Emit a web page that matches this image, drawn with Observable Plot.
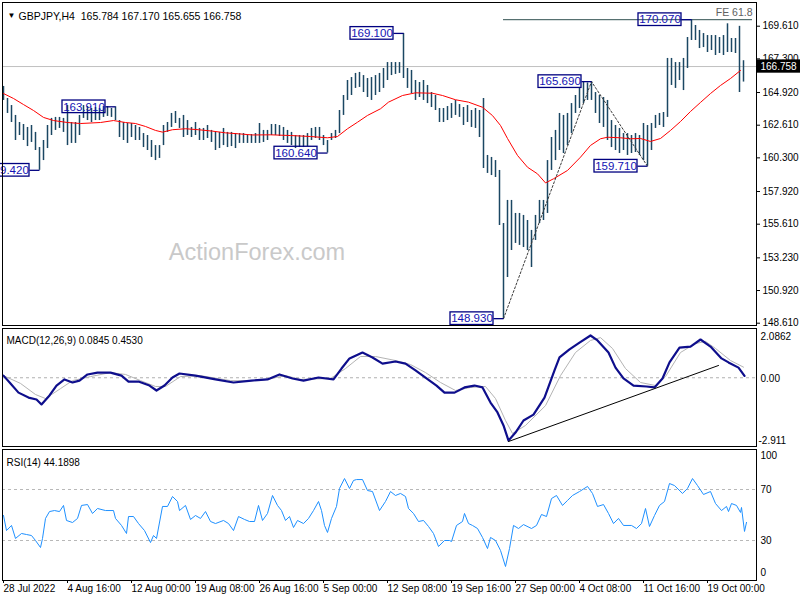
<!DOCTYPE html>
<html><head><meta charset="utf-8">
<script src="https://cdn.jsdelivr.net/npm/d3@7"></script>
<script src="https://cdn.jsdelivr.net/npm/@observablehq/plot@0.6"></script>
<style>
body{margin:0;background:#fff;}
#chart{position:relative;width:800px;height:600px;overflow:hidden;background:#fff;}
#chart svg{position:absolute;left:0;}
</style></head><body><div id="chart"></div>
<script>
// ---------- data ----------
const titleText = "GBPJPY,H4  165.784 167.170 165.655 166.758";
const priceTicks = [169.61,167.30,164.92,162.61,160.30,157.92,155.61,153.23,150.92,148.61];
// one entry per two H4 bars (bar index = 2*i)
const barHigh = [
165.35,164.50,164.00,163.30,162.80,162.66,162.45,162.59,162.10,161.03,
161.53,162.59,163.09,163.16,163.16,163.09,164.00,162.80,162.80,163.30,
164.00,163.93,163.79,163.86,163.79,163.93,163.93,163.79,163.91,162.94,
162.80,162.73,162.73,162.59,162.45,162.02,161.88,161.53,161.17,161.17,
162.59,162.80,163.44,163.58,163.09,163.30,162.94,162.45,162.80,162.38,
162.38,162.59,162.24,162.10,162.10,162.38,162.10,162.10,162.02,162.02,
162.02,161.88,161.95,162.02,162.73,162.24,162.24,162.66,162.66,162.59,
162.45,162.24,162.10,161.88,161.88,161.88,162.02,162.38,162.45,162.45,
161.88,161.53,162.02,162.24,163.65,164.71,165.77,165.98,166.27,166.34,
166.12,165.91,165.98,166.12,166.27,166.62,167.04,167.04,167.04,167.04,
169.10,166.62,166.48,165.77,165.63,165.77,165.42,164.92,164.71,163.79,
163.79,163.93,164.14,164.36,164.07,163.86,164.00,163.65,163.79,163.65,
164.50,160.47,160.33,160.11,159.41,155.66,157.29,157.29,156.37,156.37,
156.23,155.87,155.17,156.23,157.29,157.29,160.11,161.74,162.24,163.44,
163.30,163.44,164.14,164.71,165.28,165.63,165.60,165.69,164.92,164.71,
164.57,164.36,162.94,162.59,162.38,162.02,162.02,161.88,162.02,161.88,
162.73,162.59,162.73,163.30,163.44,163.51,167.33,167.33,167.04,167.04,
167.33,168.81,170.07,169.66,169.31,169.09,168.95,168.95,168.95,168.81,
168.95,169.78,168.74,168.74,169.60,167.17];
const barLow = [
164.36,163.44,162.80,161.53,161.88,161.53,161.10,161.39,160.82,159.42,
160.11,160.96,161.88,162.24,162.38,162.10,161.17,161.32,161.32,161.88,
163.09,162.94,162.80,162.94,162.94,163.16,163.23,163.16,162.94,161.74,
161.53,161.32,161.74,161.53,161.53,161.03,160.82,160.33,160.11,160.26,
161.17,162.10,162.45,162.73,162.38,161.74,161.88,161.74,161.88,161.53,
161.53,161.67,161.39,160.82,160.96,161.17,161.03,161.10,160.96,161.32,
161.32,161.32,161.32,161.32,161.32,161.39,161.53,161.88,161.88,161.81,
161.53,161.32,161.17,160.96,161.03,161.03,161.10,161.53,161.67,161.53,
161.17,160.64,161.53,161.67,162.02,163.30,164.36,164.71,165.21,165.28,
164.92,164.57,164.36,164.71,164.92,165.21,165.77,166.12,166.20,166.27,
165.91,165.21,164.85,164.36,164.57,164.36,164.14,163.86,163.65,162.80,
162.80,162.94,163.09,163.30,163.16,162.59,162.80,162.45,162.38,161.74,
159.55,159.20,159.05,158.91,155.52,148.93,151.84,153.75,154.25,154.11,
153.96,153.75,152.55,154.46,155.66,155.87,156.37,159.41,160.11,160.82,
160.61,161.17,162.02,163.44,163.79,164.14,164.36,164.36,163.44,162.73,
162.45,161.53,161.03,160.82,160.61,160.82,160.47,160.61,160.68,160.47,
160.11,159.71,160.82,162.38,162.59,162.45,163.16,165.42,165.21,165.77,
165.06,166.62,168.60,168.60,168.03,168.10,167.75,167.89,167.54,167.68,
167.54,167.75,167.75,167.68,164.92,165.66];
const maBar = [0,5,10,15,20,25,32,38.5,48.5,55,61,66,71,76,79.5,84.5,91,97.5,104.5,111,117.5,124.5,133.5,143.5,153.5,162,167,172,177,182,188.5,192.5,199.5,206,214.5,219.5,226,232.5,239.5,244.5,248.5,252,257,262,267,271,275,282,288.5,293.5,298.5,302,308.5,313.5,318.5,323.5,328.5,333.5,338.5,343.5,348.5,353.5,358.5,363.5,368.5];
const maValue = [164.85,164.50,164.07,163.65,163.16,162.94,162.80,162.73,162.80,162.94,162.80,162.73,162.52,162.24,162.12,162.29,162.36,162.29,162.19,162.07,162.00,161.92,161.93,161.88,161.81,161.72,161.81,162.36,162.82,163.30,163.77,164.24,164.71,164.90,164.87,164.71,164.41,164.24,163.88,163.29,162.59,161.67,160.47,159.64,159.17,158.53,158.82,159.41,160.35,161.18,161.65,161.76,161.72,161.65,161.67,161.46,161.67,162.24,162.87,163.58,164.22,164.85,165.42,165.91,166.48];
const lastClose = 166.758;
const feLevel = 170.07;
const feText = "FE 61.8";
const swingText = ["159.420","163.910","160.640","169.100","148.930","165.690","159.710","170.070"];
const swingBar = [18,56,162,200,250,294,322,344];
const swingPrice = [159.42,163.91,160.64,169.10,148.93,165.69,159.71,170.07];
const zigzagBar = [250,294,322];
const zigzagPrice = [148.93,165.69,159.71];

const macdTitle = "MACD(12,26,9) 0.0845 0.4530";
const macdBar = [0,3.5,7.5,12.5,16.5,19,23,26.5,30.5,34.5,38,42,47,53.5,59,62.5,67.5,73,76.5,80.5,84.5,88,96,106,115,124,132,138,144.5,150,157.5,165,169,173,179.5,184.5,189.5,196,201,206,211.5,216.5,220.5,225.5,230.5,235.5,239.5,243.5,247,250,252.5,256,260,265,270.5,275.5,278,283,288,293.5,297,302.5,306,310,315,321.5,325.5,329.5,333,338,343.5,348.5,353.5,359,362.5,367.5,370.5];
const macdValue = [0.09,-0.24,-0.63,-0.84,-0.92,-1.13,-0.75,-0.33,-0.07,-0.20,-0.12,0.14,0.22,0.22,0.09,-0.16,-0.16,-0.33,-0.54,-0.33,0.01,0.18,0.09,-0.07,-0.20,-0.12,-0.07,0.14,-0.03,-0.12,0.01,-0.07,0.39,0.82,1.07,0.86,0.60,0.69,0.60,0.31,-0.03,-0.33,-0.63,-0.63,-0.41,-0.33,-0.41,-1.05,-1.47,-2.02,-2.66,-2.32,-1.81,-1.56,-0.84,0.31,0.86,1.20,1.49,1.79,1.58,1.07,0.43,-0.03,-0.33,-0.37,-0.41,-0.03,0.65,1.28,1.32,1.62,1.32,0.82,0.65,0.43,0.08];
const signalBar = [0,8.5,16,21,28.5,34.5,43.5,53.5,61,68.5,76,81,88.5,98.5,113.5,128.5,141,148.5,163.5,171,178.5,186,196,203.5,211,218.5,226,233.5,241,246,251,254.5,261,271,278.5,286,293.5,298.5,304.5,311,318.5,326,331,338.5,346,351,356,363.5,370];
const signalValue = [0.09,-0.24,-0.71,-0.88,-0.46,-0.12,0.05,0.22,0.14,-0.12,-0.37,-0.37,0.05,0.09,-0.12,-0.12,0.09,-0.07,-0.03,0.39,0.90,0.90,0.73,0.56,0.22,-0.20,-0.54,-0.41,-0.37,-0.88,-1.81,-2.36,-2.02,-1.18,0.09,1.07,1.58,1.70,1.24,0.39,-0.20,-0.33,0.05,1.07,1.45,1.54,1.24,0.73,0.45];
const trendBar = [252.5,357.5];
const trendValue = [-2.70,0.52];
const macdLabels = ["2.0862","0.00","-2.911"];
const macdLabelValue = [2.0862,0,-2.911];

const rsiTitle = "RSI(14) 44.1898";
const rsiBar = [0,1.5,4,6,9,11.5,14,16,18.5,19.5,21,23,25.5,28,30,31.5,34.5,37,39,42,44.5,47,51,55,56,59,61.5,62.5,65,67.5,70.5,73.5,75,76.5,79.5,82,84.5,87,88,91,93.5,96,98.5,101,103.5,106,110,112.5,115,117.5,120.5,123,125.5,127.5,129.5,132,134.5,137,139,141,143,145,147,150,152.5,155,157.5,159,160.5,162,164,166.5,168,170.5,173,175,176.5,179.5,182,184.5,188,191,193.5,196,198.5,201,202.5,205,207.5,210,212.5,215,217.5,220.5,223,224,226.5,229.5,230.5,232.5,234.5,237,239.5,242,243.5,246,248.5,251,253,255,257.5,260,264,266.5,269,271.5,274,276.5,279.5,282,284.5,288,292,294.5,297,300,302.5,305,307.5,310,314,316.5,319,321,323,325.5,328,330.5,333,335.5,339.5,342,344.5,347,350,353.5,356,359,361.5,362.5,364,366.5,368.5,369,370.5,371.5];
const rsiValue = [49.6,37.8,41.8,31.6,35.5,34.7,33.9,30.0,24.5,31.6,47.3,52.7,53.5,52.7,57.5,45.7,44.1,47.3,57.5,58.2,51.2,55.1,53.5,53.5,47.3,41.8,35.5,48.8,48.8,43.3,37.8,28.4,33.9,31.6,56.7,56.7,64.5,60.6,53.5,57.5,46.5,49.6,47.3,52.7,44.9,43.3,45.7,43.3,37.8,48.8,46.5,44.9,44.9,57.5,45.7,51.2,65.3,57.5,53.5,45.7,48.8,40.2,45.7,43.3,47.3,53.5,60.6,53.5,41.8,36.3,47.3,56.7,70.8,78.6,70.8,77.1,77.8,77.8,69.2,68.4,53.5,60.6,68.4,65.3,66.9,64.5,55.1,51.2,44.9,45.7,41.0,35.5,25.3,30.0,30.0,29.2,41.8,44.9,51.2,43.3,41.8,39.4,32.4,23.7,32.4,30.0,22.2,9.6,23.7,41.8,39.4,42.5,39.4,41.8,50.4,48.8,62.9,65.3,57.5,61.4,65.3,68.4,72.4,66.9,56.7,58.2,51.2,43.3,47.3,41.8,41.8,39.4,43.3,55.1,41.0,49.6,57.5,60.6,74.7,73.1,66.9,70.8,78.6,73.1,66.1,68.4,59.0,53.5,56.7,52.7,59.0,57.5,52.0,55.9,37.1,44.2];
const rsiLevels = [70,30];
const rsiLabels = ["100","70","30","0"];
const rsiLabelValue = [100,70,30,0];
const dateBars = [0,32,64,96,128,160,192,224,256,288,320,352];
const dateLabels = ["28 Jul 2022","4 Aug 16:00","12 Aug 00:00","19 Aug 08:00","26 Aug 16:00","5 Sep 00:00","12 Sep 08:00","19 Sep 16:00","27 Sep 00:00","4 Oct 08:00","11 Oct 16:00","19 Oct 00:00"];

// ---------- layout ----------
const FONT = "'Liberation Sans', Arial, sans-serif";
const W = 800, ML = 2, MR = 44;
const X = {domain:[0,376], range:[3,755], axis:null};
const pxPerBar = 752/376;
const pxPerPrice = 297/21;
const baseStyle = {background:"transparent", fontFamily:FONT, fontSize:"10px", color:"black"};
const root = document.getElementById("chart");

// ---------- price pane ----------
const bars = barHigh.map((h,i)=>({bar:2*i, high:h, low:barLow[i]}));
const ma = maBar.map((b,i)=>({bar:b, value:maValue[i]}));
const swings = swingText.map((t,i)=>({text:t, bar:swingBar[i], price:swingPrice[i]}));
const zig = zigzagBar.map((b,i)=>({bar:b, price:zigzagPrice[i]}));
const boxL = 53/pxPerBar, boxR = 10/pxPerBar, boxH = 6.3/pxPerPrice;
const rightEdge = 376, labelX = 377;

const p1 = Plot.plot({
  width:W, height:327, marginLeft:ML, marginRight:MR, marginTop:2, marginBottom:2,
  x:X, y:{domain:[148.61,169.61], range:[322.7,25.7], axis:null},
  style:baseStyle,
  marks:[
    Plot.text(["ActionForex.com"], {x:126.75, y:153.6, fontSize:23.5, fill:"#c9c9c9"}),
    Plot.ruleY([lastClose], {stroke:"#c0c0c0"}),
    Plot.ruleY([feLevel], {x1:zigzagBar[0], x2:rightEdge-1.5, stroke:"#2f4f4f", strokeWidth:1}),
    Plot.text([feText], {x:rightEdge-1.5, y:feLevel, dy:-7, textAnchor:"end", fill:"#606060", fontSize:10.5}),
    Plot.ruleX(bars, {x:"bar", y1:"low", y2:"high", stroke:"#1b4763", strokeWidth:1.5}),
    Plot.line(ma, {x:"bar", y:"value", stroke:"#ff0000", strokeWidth:1}),
    Plot.line(zig, {x:"bar", y:"price", stroke:"#3a3a3a", strokeWidth:1, strokeDasharray:"2,2"}),
    Plot.link(swings, {x1:d=>d.bar-boxR, x2:"bar", y1:"price", y2:"price", stroke:"#000080", strokeWidth:1.3}),
    Plot.rect(swings, {x1:d=>d.bar-boxL, x2:d=>d.bar-boxR, y1:d=>d.price-boxH, y2:d=>d.price+boxH, fill:"none", stroke:"#000080", strokeWidth:1.3}),
    Plot.text(swings, {x:d=>d.bar-(boxL+boxR)/2, y:"price", text:"text", fill:"#1414b4", fontSize:11.5}),
    Plot.text(["▼"], {frameAnchor:"top-left", dx:5, dy:10, textAnchor:"start", fontSize:8, fill:"black"}),
    Plot.text([titleText], {frameAnchor:"top-left", dx:16, dy:10, textAnchor:"start", fontSize:10.5, fill:"black"}),
    Plot.axisY(priceTicks, {anchor:"right", tickFormat:d=>d.toFixed(3), tickSize:3, tickPadding:3, fontSize:10, label:null}),
    Plot.rect([lastClose], {x1:labelX, x2:labelX+24, y1:d=>d-0.47, y2:d=>d+0.47, fill:"black"}),
    Plot.text([lastClose], {x:labelX, y:d=>d, text:d=>d.toFixed(3), dx:3, textAnchor:"start", fill:"white", fontSize:10}),
    Plot.frame({stroke:"black"})
  ]
});
p1.style.top = "0px";
root.appendChild(p1);

// ---------- MACD pane ----------
const macd = macdBar.map((b,i)=>({bar:b, value:macdValue[i]}));
const signal = signalBar.map((b,i)=>({bar:b, value:signalValue[i]}));
const trend = trendBar.map((b,i)=>({bar:b, value:trendValue[i]}));
const mLab = macdLabels.map((t,i)=>({text:t, value:macdLabelValue[i]}));
const p2 = Plot.plot({
  width:W, height:121, marginLeft:ML, marginRight:MR, marginTop:1, marginBottom:2,
  x:X, y:{domain:[-2.911,2.0862], range:[119,1], axis:null},
  style:baseStyle,
  marks:[
    Plot.ruleY([0], {stroke:"#b0b0b0", strokeDasharray:"3,3"}),
    Plot.line(signal, {x:"bar", y:"value", stroke:"#b4b4b4", strokeWidth:1}),
    Plot.line(macd, {x:"bar", y:"value", stroke:"#0e0e8c", strokeWidth:2.2}),
    Plot.line(trend, {x:"bar", y:"value", stroke:"black", strokeWidth:1}),
    Plot.text([macdTitle], {frameAnchor:"top-left", dx:4, dy:8, textAnchor:"start", fontSize:10, fill:"black"}),
    Plot.text(mLab.slice(0,1), {frameAnchor:"right", y:"value", text:"text", dx:4, dy:8, textAnchor:"start", fontSize:10, fill:"black"}),
    Plot.text(mLab.slice(1,2), {frameAnchor:"right", y:"value", text:"text", dx:4, dy:1, textAnchor:"start", fontSize:10, fill:"black"}),
    Plot.text(mLab.slice(2), {frameAnchor:"right", y:"value", text:"text", dx:2, dy:-6, textAnchor:"start", fontSize:10, fill:"black"}),
    Plot.frame({stroke:"black"})
  ]
});
p2.style.top = "327px";
root.appendChild(p2);

// ---------- RSI pane ----------
const rsi = rsiBar.map((b,i)=>({bar:b, value:rsiValue[i]}));
const rLab = rsiLabels.map((t,i)=>({text:t, value:rsiLabelValue[i]}));
const p3 = Plot.plot({
  width:W, height:152, marginLeft:ML, marginRight:MR, marginTop:1, marginBottom:20,
  x:X, y:{domain:[0,100], range:[130.25,2.75], axis:null},
  style:baseStyle,
  marks:[
    Plot.ruleY(rsiLevels, {stroke:"#b8b8b8", strokeDasharray:"3,3"}),
    Plot.line(rsi, {x:"bar", y:"value", stroke:"#1e90ff", strokeWidth:1}),
    Plot.text([rsiTitle], {frameAnchor:"top-left", dx:4, dy:9.5, textAnchor:"start", fontSize:10, fill:"black"}),
    Plot.text(rLab.slice(0,1), {frameAnchor:"right", y:"value", text:"text", dx:4, dy:5, textAnchor:"start", fontSize:10, fill:"black"}),
    Plot.text(rLab.slice(1,3), {frameAnchor:"right", y:"value", text:"text", dx:4, dy:0, textAnchor:"start", fontSize:10, fill:"black"}),
    Plot.text(rLab.slice(3), {frameAnchor:"right", y:"value", text:"text", dx:4, dy:-6, textAnchor:"start", fontSize:10, fill:"black"}),
    Plot.axisX(dateBars, {anchor:"bottom", tickSize:3, tickPadding:1, tickFormat:d=>dateLabels[dateBars.indexOf(d)], textAnchor:"start", fontSize:10, label:null}),
    Plot.frame({stroke:"black"})
  ]
});
p3.style.top = "448px";
root.appendChild(p3);
</script></body></html>
